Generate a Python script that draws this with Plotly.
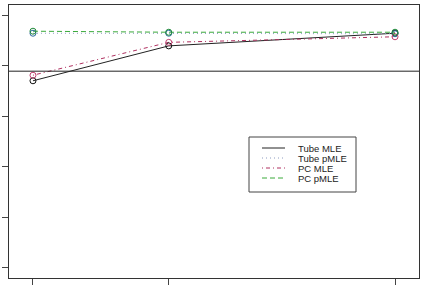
import plotly.graph_objects as go

x_vals = [20, 50, 100]
tube_mle = [0.870, 0.939, 0.964]
tube_pmle = [0.964, 0.964, 0.963]
pc_mle = [0.881, 0.946, 0.957]
pc_pmle = [0.968, 0.966, 0.966]
ref_level = 0.889
y_ticks = [0.5, 0.6, 0.7, 0.8, 0.9, 1.0]

series = [
    ("Tube MLE", tube_mle, "#222222", "#111111", "solid"),
    ("Tube pMLE", tube_pmle, "#8e9cc0", "#2f6aa0", "1px,3px"),
    ("PC MLE", pc_mle, "#b03060", "#c04070", "1px,3px,4px,3px"),
    ("PC pMLE", pc_pmle, "#3aaa3a", "#1f8a3a", "5px,3px"),
]

fig = go.Figure()
for name, ys, lc, mc, dash in series:
    fig.add_trace(go.Scatter(x=x_vals, y=ys, mode="lines", name=name, showlegend=False,
                             line=dict(color=lc, width=1, dash=dash)))
for name, ys, lc, mc, dash in series:
    fig.add_trace(go.Scatter(x=x_vals, y=ys, mode="markers", showlegend=False,
                             marker=dict(symbol="circle-open", size=6,
                                         color=mc, line=dict(color=mc, width=1))))

fig.add_hline(y=ref_level, line=dict(color="#222222", width=1))

# manual legend (R-style compact box)
W, H = 410.0, 273.0
def px(xp):
    return (xp - 9) / W
def py(yp):
    return (278 - yp) / H

fig.add_shape(type="rect", xref="paper", yref="paper",
              x0=px(249), x1=px(356), y0=py(192), y1=py(137),
              line=dict(color="#444444", width=1), fillcolor="white", layer="above")
rows = [148, 158, 168, 178]
for (name, ys, lc, mc, dash), ry in zip(series, rows):
    fig.add_shape(type="line", xref="paper", yref="paper",
                  x0=px(262), x1=px(285), y0=py(ry), y1=py(ry),
                  line=dict(color=lc, width=1, dash=dash), layer="above")
    fig.add_annotation(x=px(296), y=py(ry), xref="paper", yref="paper",
                       text=name, showarrow=False, xanchor="left", yanchor="middle",
                       font=dict(family="Liberation Sans Narrow, Liberation Sans, Arial",
                                 size=9.5, color="#222222"))

fig.update_layout(
    width=421, height=288,
    margin=dict(l=9, r=2, t=5, b=10),
    paper_bgcolor="white", plot_bgcolor="white",
    font=dict(family="Liberation Sans, Arial", size=10, color="#222222"),
    showlegend=False,
)
fig.update_xaxes(range=[14.7, 105.3], tickvals=x_vals, showticklabels=False,
                 ticks="outside", ticklen=6, tickcolor="#444444",
                 showline=True, mirror=True, linecolor="#333333", linewidth=1,
                 showgrid=False, zeroline=False)
fig.update_yaxes(range=[0.4802, 1.0198], tickvals=y_ticks, showticklabels=False,
                 ticks="outside", ticklen=6, tickcolor="#444444",
                 showline=True, mirror=True, linecolor="#333333", linewidth=1,
                 showgrid=False, zeroline=False)

fig.write_html("out.html")
